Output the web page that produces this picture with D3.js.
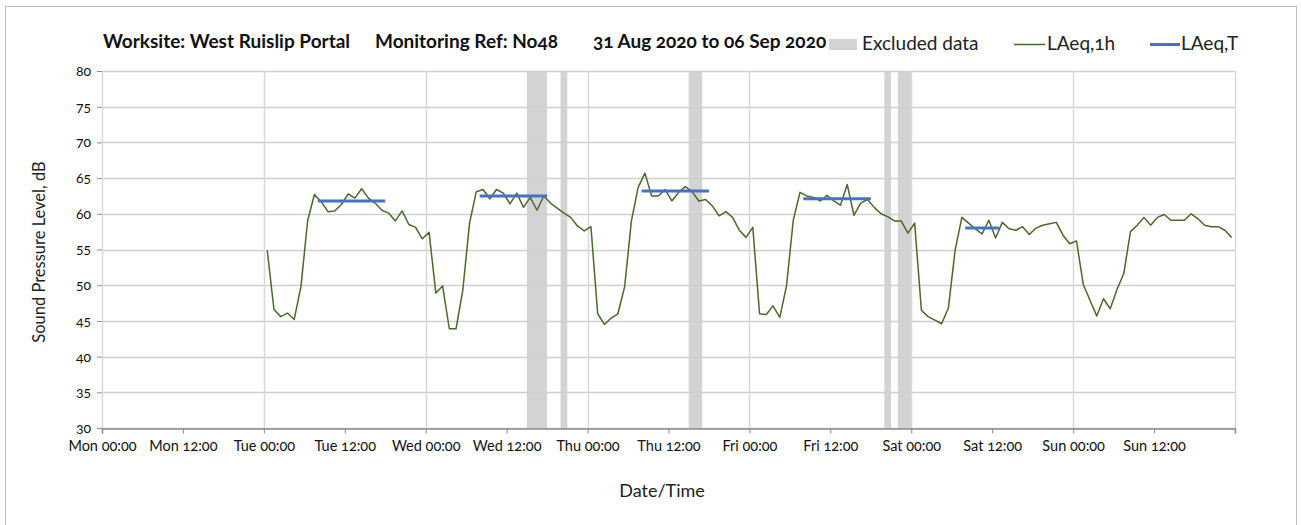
<!DOCTYPE html>
<html>
<head>
<meta charset="utf-8">
<script src="https://cdn.jsdelivr.net/npm/d3@7"></script>
<style>
  body { margin: 0; background: #fff; }
  svg text { font-family: Lato, "Open Sans", sans-serif; font-feature-settings: "onum" 1; }
</style>
</head>
<body>
<div id="chart"></div>
<script>
/**
 * DATA
 * */
// hourly LAeq,1h values, first reading is Tue 01 Sep 00:30, one per hour
const firstReading = "2020-09-01T00:30";
const laeq1h = [
  54.9, 46.6, 45.6, 46.1, 45.2, 49.8, 59.1, 62.7, 61.7, 60.3, 60.4, 61.3,
  62.8, 62.2, 63.5, 62.2, 61.5, 60.5, 60.1, 59.0, 60.4, 58.5, 58.1, 56.5,
  57.4, 48.9, 49.9, 43.9, 43.9, 49.3, 58.7, 63.1, 63.4, 62.1, 63.4, 62.9,
  61.4, 62.9, 60.9, 62.3, 60.5, 62.5, 61.5, 60.8, 60.1, 59.5, 58.3, 57.6,
  58.2, 46.0, 44.5, 45.4, 46.0, 49.8, 59.0, 63.7, 65.7, 62.5, 62.5, 63.4,
  61.8, 63.0, 63.8, 63.1, 61.8, 62.0, 61.1, 59.7, 60.3, 59.5, 57.7, 56.7,
  58.1, 46.0, 45.9, 47.1, 45.5, 49.9, 59.1, 63.0, 62.5, 62.3, 61.8, 62.6,
  61.8, 61.2, 64.1, 59.8, 61.5, 62.0, 60.9, 60.0, 59.6, 59.0, 59.0, 57.3,
  58.7, 46.5, 45.6, 45.1, 44.6, 46.8, 54.9, 59.5, 58.7, 57.9, 57.2, 59.1,
  56.6, 58.8, 57.9, 57.7, 58.2, 57.1, 58.0, 58.4, 58.6, 58.8, 57.0, 55.8,
  56.2, 50.1, 47.9, 45.7, 48.1, 46.7, 49.4, 51.6, 57.5, 58.4, 59.5, 58.4,
  59.5, 59.9, 59.1, 59.1, 59.1, 60.0, 59.3, 58.4, 58.2, 58.2, 57.7, 56.7
];

// LAeq,T daytime periods
const periodStart = ["2020-09-01T08:00", "2020-09-02T08:00", "2020-09-03T08:00", "2020-09-04T08:00", "2020-09-05T08:00"];
const periodEnd   = ["2020-09-01T18:00", "2020-09-02T18:00", "2020-09-03T18:00", "2020-09-04T18:00", "2020-09-05T13:00"];
const laeqT = [61.8, 62.5, 63.2, 62.1, 58.0];

// excluded data windows
const excludedStart = ["2020-09-02T15:00", "2020-09-02T20:00", "2020-09-03T15:00", "2020-09-04T20:00", "2020-09-04T22:00"];
const excludedEnd   = ["2020-09-02T18:00", "2020-09-02T21:00", "2020-09-03T17:00", "2020-09-04T21:00", "2020-09-05T00:00"];

const yTicks = [30, 35, 40, 45, 50, 55, 60, 65, 70, 75, 80];
const xStart = "2020-08-31T00:00", xEnd = "2020-09-07T00:00";

/**
 * CONSTANTS
 * */
const width = 1301, height = 525,
  margin = { top: 71, right: 66, bottom: 97, left: 102 };

const parse = d3.timeParse("%Y-%m-%dT%H:%M");
const t0 = parse(firstReading);
const readings = laeq1h.map((v, i) => ({ time: d3.timeHour.offset(t0, i), value: v }));
const periods = laeqT.map((v, i) => ({ start: parse(periodStart[i]), end: parse(periodEnd[i]), value: v }));
const excluded = excludedStart.map((s, i) => ({ start: parse(s), end: parse(excludedEnd[i]) }));

const svg = d3.select("#chart").append("svg")
  .attr("width", width)
  .attr("height", height);

// outer chart border
svg.append("rect")
  .attr("x", 5.5).attr("y", 6.5)
  .attr("width", 1291).attr("height", 530)
  .attr("fill", "none")
  .attr("stroke", "#bfbfbf");

const x = d3.scaleTime()
  .domain([parse(xStart), parse(xEnd)])
  .range([margin.left, width - margin.right]);

const y = d3.scaleLinear()
  .domain([30, 80])
  .range([height - margin.bottom, margin.top]);

// excluded bars
svg.selectAll("rect.excluded")
  .data(excluded)
  .join("rect")
  .attr("class", "excluded")
  .attr("x", d => x(d.start))
  .attr("width", d => x(d.end) - x(d.start))
  .attr("y", y(80))
  .attr("height", y(30) - y(80))
  .attr("fill", "#d3d3d3");

// horizontal gridlines
svg.selectAll("line.hgrid")
  .data(yTicks)
  .join("line")
  .attr("class", "hgrid")
  .attr("x1", x.range()[0]).attr("x2", x.range()[1])
  .attr("y1", d => Math.round(y(d)) + 0.5).attr("y2", d => Math.round(y(d)) + 0.5)
  .attr("stroke", "#d0d0d0")
  .attr("stroke-width", 1.5);

// vertical gridlines, one per day
const days = d3.timeDay.range(parse(xStart), d3.timeHour.offset(parse(xEnd), 1));
svg.selectAll("line.vgrid")
  .data(days)
  .join("line")
  .attr("class", "vgrid")
  .attr("x1", d => Math.round(x(d)) + 0.5).attr("x2", d => Math.round(x(d)) + 0.5)
  .attr("y1", y(80)).attr("y2", y(30))
  .attr("stroke", "#d9d9d9")
  .attr("stroke-width", 1.5);

// x axis
const xAxis = d3.axisBottom(x)
  .tickValues(d3.timeHour.every(12).range(parse(xStart), d3.timeHour.offset(parse(xEnd), 1)))
  .tickSize(5)
  .tickFormat(d => d >= parse(xEnd) ? "" : d3.timeFormat("%a %H:%M")(d));

svg.append("g")
  .attr("transform", `translate(0,${Math.round(y(30)) + 0.5})`)
  .call(xAxis)
  .call(g => g.select(".domain").attr("stroke", "#8c8c8c").attr("stroke-width", 1.5))
  .call(g => g.selectAll(".tick line").attr("stroke", "#8c8c8c"))
  .call(g => g.selectAll(".tick text")
    .attr("dy", "1.0em")
    .attr("font-size", 14.5)
    .attr("font-family", "Lato, sans-serif")
    .attr("fill", "#111"));

// y axis (ticks only, gridline at Mon 00:00 acts as the axis line)
svg.append("g")
  .attr("transform", `translate(${margin.left},0)`)
  .call(d3.axisLeft(y).tickValues(yTicks).tickSize(5).tickPadding(6))
  .call(g => g.select(".domain").remove())
  .call(g => g.selectAll(".tick line").attr("stroke", "#8c8c8c"))
  .call(g => g.selectAll(".tick text")
    .attr("font-size", 14)
    .attr("font-family", "Lato, sans-serif")
    .attr("fill", "#111"));

// LAeq,1h line
const line = d3.line()
  .x(d => x(d.time))
  .y(d => y(d.value));

svg.append("path")
  .datum(readings)
  .attr("d", line)
  .attr("fill", "none")
  .attr("stroke", "#4a6a2a")
  .attr("stroke-width", 1.5)
  .attr("stroke-linejoin", "round");

// LAeq,T segments
svg.selectAll("line.laeqT")
  .data(periods)
  .join("line")
  .attr("class", "laeqT")
  .attr("x1", d => x(d.start)).attr("x2", d => x(d.end))
  .attr("y1", d => y(d.value)).attr("y2", d => y(d.value))
  .attr("stroke", "#4472c4")
  .attr("stroke-width", 3);

// title
const title = svg.append("g")
  .attr("font-weight", "bold")
  .attr("font-size", 19)
  .attr("fill", "#111");
title.append("text").attr("x", 103).attr("y", 48).text("Worksite: West Ruislip Portal");
title.append("text").attr("x", 375).attr("y", 48).text("Monitoring Ref: No48");
title.append("text").attr("x", 593).attr("y", 48).text("31 Aug 2020 to 06 Sep 2020");

// legend
const legend = svg.append("g").attr("font-size", 19).attr("fill", "#222");
legend.append("rect").attr("x", 829).attr("y", 39).attr("width", 28).attr("height", 11).attr("fill", "#d3d3d3");
legend.append("text").attr("x", 862).attr("y", 50).text("Excluded data");
legend.append("line").attr("x1", 1014).attr("x2", 1045).attr("y1", 44.5).attr("y2", 44.5)
  .attr("stroke", "#4a6a2a").attr("stroke-width", 1.5);
legend.append("text").attr("x", 1047).attr("y", 50).text("LAeq,1h");
legend.append("line").attr("x1", 1150).attr("x2", 1180).attr("y1", 44.5).attr("y2", 44.5)
  .attr("stroke", "#4472c4").attr("stroke-width", 3);
legend.append("text").attr("x", 1181).attr("y", 50).text("LAeq,T");

// axis titles
svg.append("text")
  .attr("x", 662)
  .attr("y", 497)
  .attr("text-anchor", "middle")
  .attr("font-size", 18)
  .attr("fill", "#222")
  .text("Date/Time");

svg.append("text")
  .attr("transform", `translate(45,252) rotate(-90)`)
  .attr("text-anchor", "middle")
  .attr("font-size", 16.5)
  .attr("fill", "#222")
  .text("Sound Pressure Level, dB");
</script>
</body>
</html>
